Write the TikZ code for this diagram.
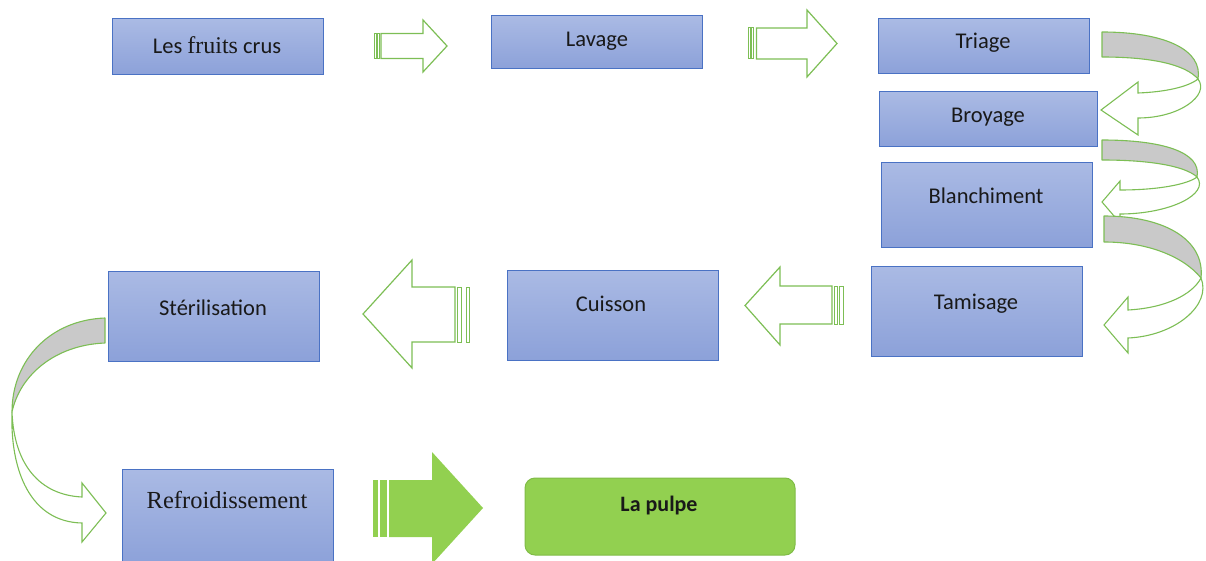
\documentclass[tikz,border=0pt]{standalone}
\usepackage{fontspec}
\setmainfont{Carlito}
\newfontfamily\titleserif{Liberation Serif}
\definecolor{boxtop}{HTML}{AABAE4}
\definecolor{boxbot}{HTML}{8CA1D9}
\definecolor{boxline}{HTML}{4A72C4}
\definecolor{arrowgreen}{HTML}{7DBE55}
\definecolor{pulpgreen}{HTML}{92D050}
\definecolor{pulpline}{HTML}{80BC47}
\definecolor{backgrey}{HTML}{C9C9C9}
\tikzset{
  stepbox/.style={draw=boxline, line width=1pt, top color=boxtop, bottom color=boxbot,
    inner sep=0pt, outer sep=0pt, minimum width=211pt},
  steptext/.style={inner sep=0pt, font=\fontsize{22.5}{26}\selectfont, text=black!90},
  blockarrow/.style={draw=arrowgreen, line width=1.2pt, fill=white, line join=miter},
  stripe/.style={draw=arrowgreen, line width=1pt, fill=white},
  solidarrow/.style={fill=pulpgreen, draw=none},
  backband/.style={draw=arrowgreen, line width=1.1pt, fill=backgrey, line join=round},
  frontband/.style={draw=arrowgreen, line width=1.1pt, fill=white, line join=miter},
}
\begin{document}
\begin{tikzpicture}[x=1pt, y=-1pt]
\useasboundingbox (0,0) rectangle (1206,561);

% process steps
\node[stepbox, minimum height=56pt] (fruits) at (217.5,47) {};
\node[stepbox, minimum height=53pt] (lavage) at (596.5,42.5) {};
\node[stepbox, minimum height=55pt] (triage) at (983.5,46.5) {};
\node[stepbox, minimum width=218pt, minimum height=55pt] (broyage) at (988,119.5) {};
\node[stepbox, minimum height=84pt] (blanch) at (986.5,205) {};
\node[stepbox, minimum height=90pt] (tamis) at (976.5,311) {};
\node[stepbox, minimum height=90pt] (cuisson) at (612.5,315) {};
\node[stepbox, minimum height=90pt] (steril) at (213.5,316) {};
\node[stepbox, minimum height=96pt] (refroid) at (227.5,517) {};
\node[draw=pulpline, line width=1pt, fill=pulpgreen, rounded corners=10pt,
      minimum width=270pt, minimum height=77pt, inner sep=0pt] (pulpe) at (660,516.5) {};

\node[steptext] (fruits-t) at (217,45) {Les {\titleserif\fontsize{24}{28}\selectfont fruits} crus};
\node[steptext] (lavage-t) at (597,41) {Lavage};
\node[steptext] (triage-t) at (983,43) {Triage};
\node[steptext] (broyage-t) at (988,117) {Broyage};
\node[steptext] (blanch-t) at (986,196) {Blanchiment};
\node[steptext] (tamis-t) at (976,304) {Tamisage};
\node[steptext] (cuisson-t) at (611,304) {Cuisson};
\node[steptext] (steril-t) at (213,308) {Stérilisation};
\node[steptext, font=\titleserif\fontsize{24.5}{28}\selectfont] (refroid-t) at (227,500) {Refroidissement};
\node[steptext, font=\bfseries\fontsize{22}{26}\selectfont] (pulpe-t) at (659,506) {La pulpe};

% striped block arrows, first row
\draw[stripe] (374,33.5) rectangle (376.5,58.5);
\draw[stripe] (377.5,33.5) rectangle (379,58.5);
\draw[blockarrow] (381,33.5) -- (423,33.5) -- (423,20) -- (447,46) -- (423,72) -- (423,58.5) -- (381,58.5) -- cycle;

\draw[stripe] (748.5,28) rectangle (750.5,59);
\draw[stripe] (751.5,28) rectangle (753,59);
\draw[blockarrow] (756.5,28) -- (807,28) -- (807,10) -- (837,43.5) -- (807,77) -- (807,59) -- (756.5,59) -- cycle;

% striped block arrows, second row (pointing left)
\draw[stripe] (834,286) rectangle (837,324);
\draw[stripe] (839.5,286) rectangle (843,324);
\draw[blockarrow] (832,286) -- (780,286) -- (780,267) -- (745,305.5) -- (780,345) -- (780,324) -- (832,324) -- cycle;

\draw[stripe] (457.5,287) rectangle (461.5,342);
\draw[stripe] (466,287) rectangle (469,342);
\draw[blockarrow] (455,287) -- (412,287) -- (412,260) -- (363,314) -- (412,368) -- (412,342) -- (455,342) -- cycle;

% solid arrow towards the final product
\fill[pulpgreen] (373,480) rectangle (378,537);
\fill[pulpgreen] (380,480) rectangle (387,537);
\fill[pulpgreen] (389,480) -- (432,480) -- (432,452) -- (483,508) -- (432,564) -- (432,537) -- (389,537) -- cycle;

% U-turn arrows down the right-hand column
\draw[frontband] (1198,79) .. controls (1210,95) and (1180,118) .. (1138,118) -- (1138,135) -- (1101,110) -- (1138,82) -- (1138,93) .. controls (1165,92) and (1188,87) .. cycle;
\draw[backband] (1102,32) .. controls (1165,32) and (1203,50) .. (1198,79) .. controls (1185,64) and (1150,57) .. (1102,57) -- cycle;

\draw[frontband] (1197,177) .. controls (1210,194) and (1170,214) .. (1120,214) -- (1120,223) -- (1102,202) -- (1120,181) -- (1120,190) .. controls (1160,190) and (1188,184) .. cycle;
\draw[backband] (1102,140) .. controls (1162,140) and (1202,152) .. (1197,177) .. controls (1185,166) and (1150,160) .. (1102,160) -- cycle;

\draw[frontband] (1201,278) .. controls (1212,305) and (1175,336) .. (1128,338) -- (1128,353) -- (1104,325) -- (1128,297) -- (1128,310) .. controls (1165,308) and (1192,295) .. cycle;
\draw[backband] (1104,216) .. controls (1165,216) and (1205,240) .. (1201,278) .. controls (1185,258) and (1150,242) .. (1104,242) -- cycle;

% curved arrow on the left, from sterilisation down to cooling
\draw[frontband] (12,412) .. controls (10,470) and (30,522) .. (82,523) -- (82,542) -- (106,513) -- (82,483) -- (82,497) .. controls (40,495) and (14,465) .. cycle;
\draw[backband] (105,318) .. controls (50,320) and (12,360) .. (12,412) .. controls (20,375) and (55,345) .. (105,343) -- cycle;
\end{tikzpicture}
\end{document}
